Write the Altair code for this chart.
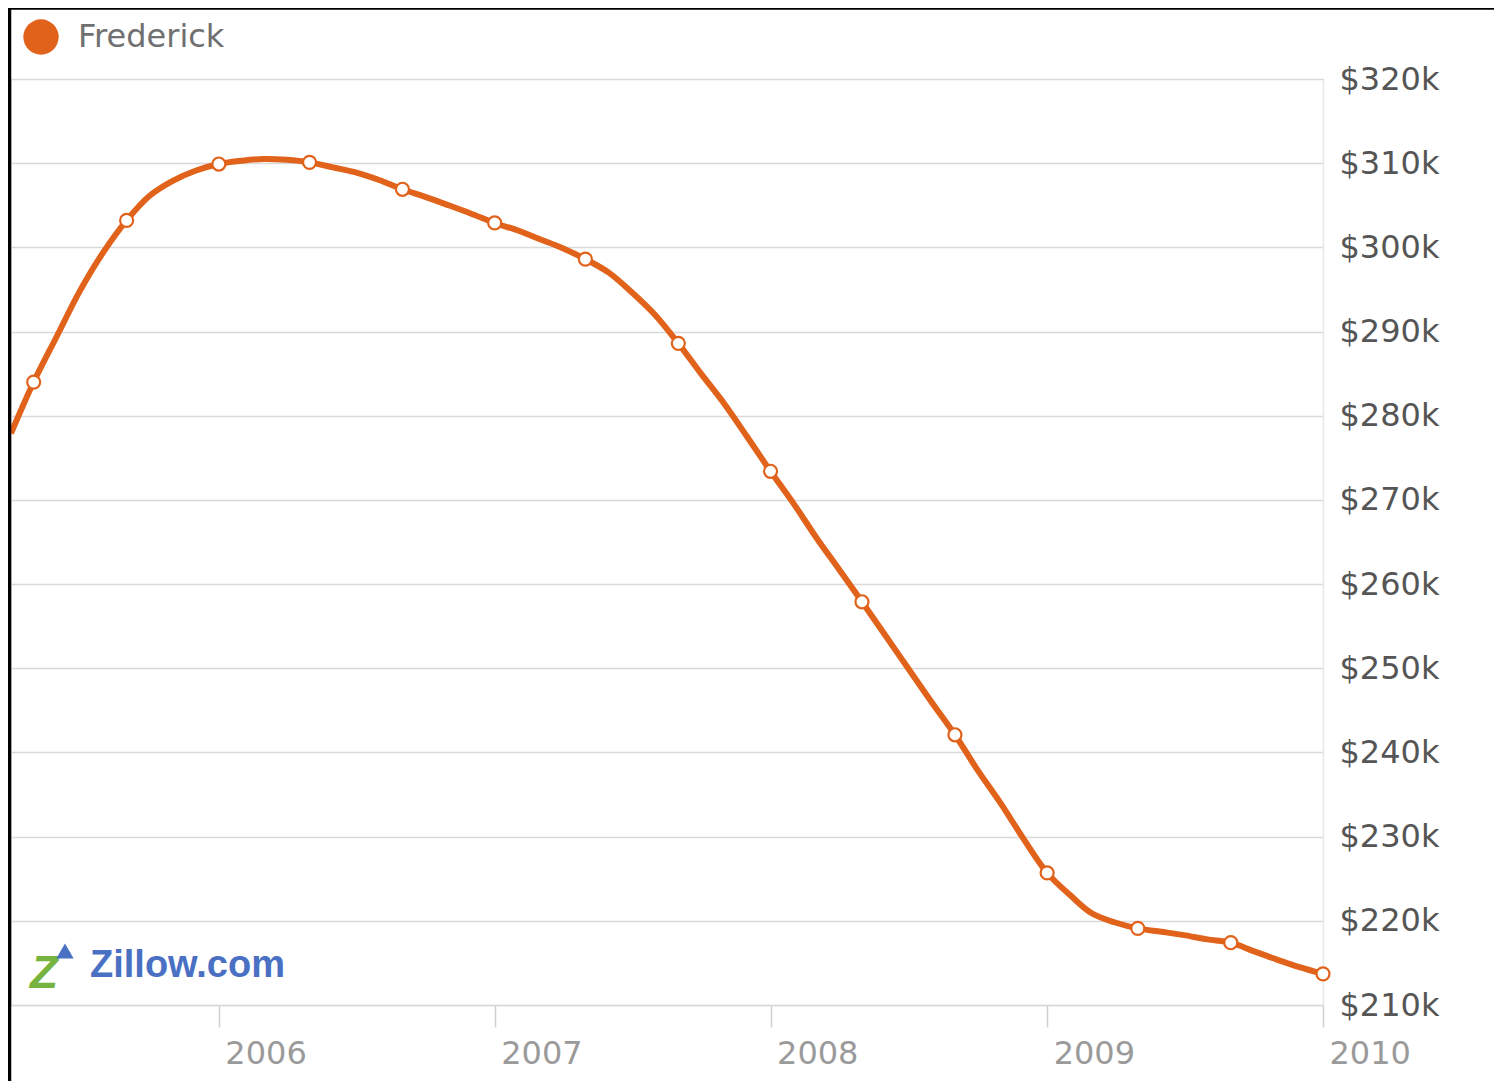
import altair as alt
import pandas as pd

series_name = "Frederick"
line_color = "#E1621A"

# monthly values (in $k), 2005-04 .. 2010-01
values_k = [
    277.9, 284.0, 289.5, 294.8, 299.4, 303.2, 306.1, 307.9, 309.1,          # 2005 Apr-Dec
    309.9, 310.3, 310.5, 310.4, 310.1, 309.5, 308.9, 308.0, 306.9, 306.0, 305.0, 304.0,  # 2006
    302.9, 302.0, 301.0, 299.9, 298.6, 297.0, 294.7, 292.0, 288.6, 285.0, 281.4, 277.5,  # 2007
    273.4, 269.5, 265.6, 261.7, 257.9, 253.9, 250.0, 246.0, 242.1, 237.9, 233.9, 229.7,  # 2008
    225.7, 223.0, 220.9, 219.8, 219.1, 218.7, 218.3, 217.8, 217.4, 216.4, 215.4, 214.5,  # 2009
    213.7,                                                                  # 2010 Jan
]
months = [d.strftime("%Y-%m-01") for d in pd.date_range("2005-04-01", "2010-01-01", freq="MS")]

marker_months = ["2005-05-01", "2005-09-01", "2006-01-01", "2006-05-01", "2006-09-01",
                 "2007-01-01", "2007-05-01", "2007-09-01", "2008-01-01", "2008-05-01",
                 "2008-09-01", "2009-01-01", "2009-05-01", "2009-09-01", "2010-01-01"]

y_ticks_k = [210, 220, 230, 240, 250, 260, 270, 280, 290, 300, 310, 320]
x_tick_years = [2006, 2007, 2008, 2009, 2010]

df = pd.DataFrame({"date": months, "value": values_k, "series": series_name})
df_markers = df[df["date"].isin(marker_months)]

font = "DejaVu Sans"

x_scale = alt.Scale(type="utc",
                    domain=[alt.DateTime(year=2005, month=4, date=1, utc=True),
                            alt.DateTime(year=2010, month=1, date=1, utc=True)])
y_scale = alt.Scale(domain=[210, 320], nice=False, zero=False)

x_axis = alt.Axis(
    values=[alt.DateTime(year=y, month=1, date=1, utc=True) for y in x_tick_years],
    labelExpr="utcFormat(datum.value, '%Y')",
    title=None, grid=False,
    domain=True, domainColor="#d9d9d9", domainWidth=1.5,
    ticks=True, tickColor="#d0d0d0", tickSize=22, tickWidth=1.5,
    labelFont=font, labelFontSize=32, labelColor="#9a9a9a",
    labelAlign="left", labelBaseline="top", labelPadding=11, labelOffset=6,
)
y_axis = alt.Axis(
    orient="right", values=y_ticks_k,
    labelExpr="'$' + datum.value + 'k'",
    title=None, grid=True, gridColor="#d9d9d9", gridWidth=1.5,
    domain=True, domainColor="#e8e8e8", domainWidth=1.5,
    ticks=False, labelFont=font, labelFontSize=32, labelColor="#555555",
    labelAlign="left", labelBaseline="middle", labelPadding=16,
)

line = alt.Chart(df).mark_line(interpolate="catmull-rom", strokeWidth=6).encode(
    x=alt.X("date:T", scale=x_scale, axis=x_axis),
    y=alt.Y("value:Q", scale=y_scale, axis=y_axis),
    color=alt.Color("series:N",
                    scale=alt.Scale(domain=[series_name], range=[line_color]),
                    legend=alt.Legend(
                        title=None, orient="none", legendX=12, legendY=-60,
                        symbolType="circle", symbolSize=1250,
                        symbolFillColor=line_color, symbolStrokeColor=line_color,
                        symbolStrokeWidth=0, symbolOpacity=1,
                        labelFont=font, labelFontSize=32, labelColor="#707070",
                        labelOffset=19,
                    )),
)

points = alt.Chart(df_markers).mark_point(
    shape="circle", filled=True, fill="white", stroke=line_color,
    strokeWidth=2.2, size=170, opacity=1
).encode(
    x=alt.X("date:T", scale=x_scale),
    y=alt.Y("value:Q", scale=y_scale),
)

frame_df = pd.DataFrame({"k": [0]})
left_frame = alt.Chart(frame_df).mark_rule(color="black", strokeWidth=3.5).encode(
    x=alt.value(-1.5), y=alt.value(-72), y2=alt.value(1010)
)
top_frame = alt.Chart(frame_df).mark_rule(color="black", strokeWidth=3.5).encode(
    x=alt.value(-3), x2=alt.value(1490), y=alt.value(-71)
)

logo_z = alt.Chart(frame_df).mark_text(
    text="Z", font="Liberation Sans", fontSize=46, fontWeight="bold", fontStyle="italic",
    color="#77b43f", align="left", baseline="middle"
).encode(x=alt.value(19), y=alt.value(895))
logo_roof = alt.Chart(frame_df).mark_point(
    shape="triangle-up", filled=True, color="#4a70c4", size=300, opacity=1
).encode(x=alt.value(54), y=alt.value(872))
logo_text = alt.Chart(frame_df).mark_text(
    text="Zillow.com", font="Liberation Sans", fontSize=38,
    fontWeight="bold", color="#4a70c4", align="left", baseline="middle"
).encode(x=alt.value(79), y=alt.value(887))

chart = alt.layer(line, points, left_frame, top_frame, logo_z, logo_roof, logo_text).properties(
    width=1312, height=926,
    autosize=alt.AutoSizeParams(type="none"),
    padding={"left": 3, "top": 71, "right": 171, "bottom": 76},
).configure_view(stroke=None).configure(background="white")

chart.save("out.html", embed_options={"renderer": "svg", "actions": False})
